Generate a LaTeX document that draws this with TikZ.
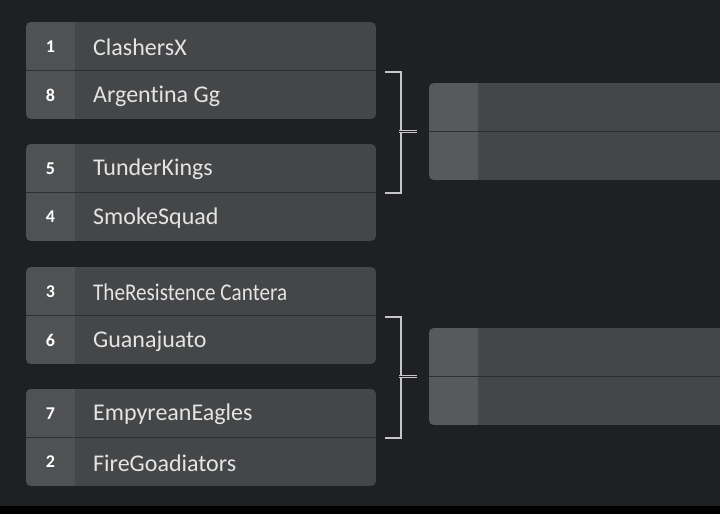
\documentclass[tikz,border=0pt]{standalone}
\usepackage{fontspec}
\setmainfont[Ligatures = NoCommon]{Carlito}
\usepackage{graphicx}
\usetikzlibrary{calc,positioning}

\definecolor{bg}{HTML}{1F2024}
\definecolor{boxgray}{HTML}{454648}
\definecolor{seedgray}{HTML}{505153}
\definecolor{seedlight}{HTML}{58595B}
\definecolor{divline}{HTML}{2E2F32}
\definecolor{txt}{HTML}{E4E4E4}
\definecolor{brk}{HTML}{C6C6C8}

\newcommand\narrowname[1]{\scalebox{0.88}[1]{#1}}

\tikzset{
  seed/.style = {font = \bfseries\fontsize{18}{18}\selectfont, text = white},
  team/.style = {font = \fontsize{24}{24}\selectfont, text = txt, anchor = west, inner sep = 0pt},
  divider/.style = {draw = divline, line width = 1pt},
  bracket/.style = {draw = brk, line width = 2pt},
  joint/.style = {draw = brk, double = bg, double distance = 1.2pt, line width = 0.6pt}
}

\begin{document}
\begin{tikzpicture}[x = 1pt, y = -1pt]
\useasboundingbox (0,0) rectangle (720,514);
\clip (0,0) rectangle (720,514);
\fill[bg] (0,0) rectangle (720,514);
\fill[black] (0,506) rectangle (720,514);

% first round
\foreach \y/\n/\sa/\ta/\sb/\tb in {22/m1/1/ClashersX/8/Argentina Gg,
    144/m2/5/TunderKings/4/SmokeSquad,
    267/m3/3/{\narrowname{TheResistence Cantera}}/6/Guanajuato,
    389/m4/7/EmpyreanEagles/2/FireGoadiators}
{
  \begin{scope}
  \clip[rounded corners = 5pt] (26,\y) rectangle (376,\y+97);
  \fill[boxgray] (26,\y) rectangle (376,\y+97);
  \fill[seedgray] (26,\y) rectangle (75,\y+97);
  \draw[divider] (26,\y+48.5) -- (376,\y+48.5);
  \end{scope}
  \node[seed] (\n sa) at (50.5,\y+24.5) {\sa};
  \node[seed] (\n sb) at (50.5,\y+73) {\sb};
  \node[team] (\n ta) at (93,\y+25) {\ta};
  \node[team] (\n tb) at (93,\y+74) {\tb};
  \coordinate (\n) at (376,\y+48.5);
}

% second round
\foreach \y/\n in {83/r1, 328/r2}
{
  \begin{scope}
  \clip[rounded corners = 5pt] (429,\y) rectangle (740,\y+97);
  \fill[boxgray] (429,\y) rectangle (740,\y+97);
  \fill[seedlight] (429,\y) rectangle (478,\y+97);
  \draw[divider] (429,\y+48.5) -- (740,\y+48.5);
  \end{scope}
  \coordinate (\n) at (429,\y+48.5);
}

% brackets
\foreach \a/\b/\j in {m1/m2/j1, m3/m4/j2}
{
  \coordinate (\j) at ($(\a)!0.5!(\b)$);
  \draw[bracket] ([xshift = 9pt, yshift = -1.5pt]\a) -| ([xshift = 25pt]\j) |- ([xshift = 9pt]\b);
  \draw[joint] ([xshift = 23pt]\j) -- ([xshift = 41pt]\j);
}
\end{tikzpicture}
\end{document}
